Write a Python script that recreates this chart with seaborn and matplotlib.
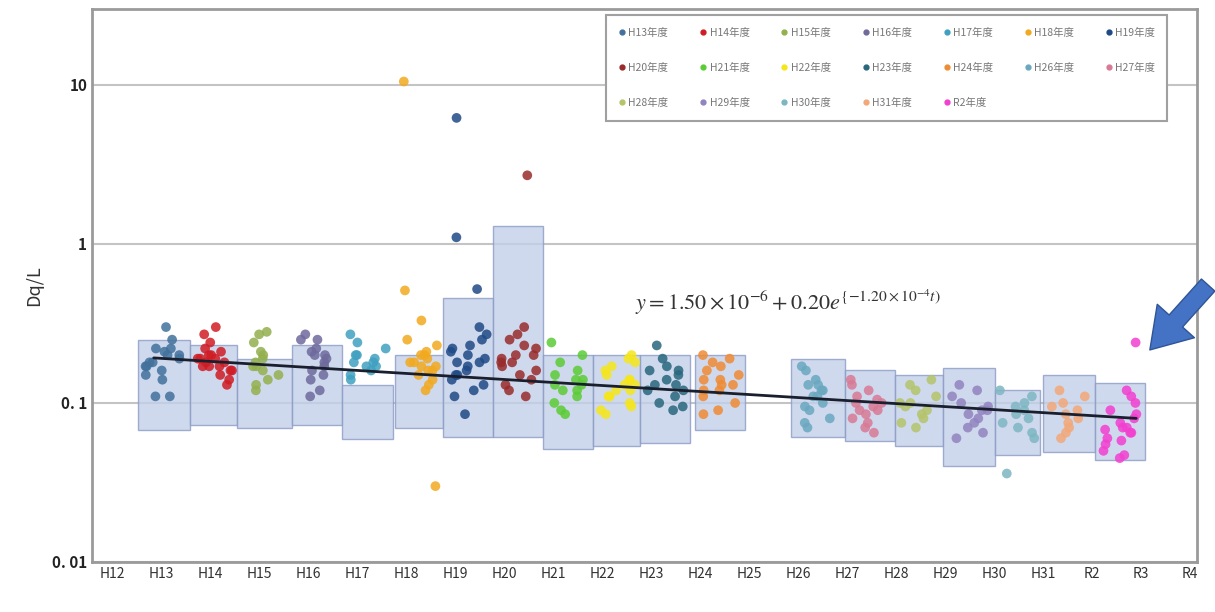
import matplotlib.pyplot as plt
import seaborn as sns
import pandas as pd
import numpy as np
from matplotlib.lines import Line2D
from matplotlib.patches import FancyArrowPatch

sns.set_style("white")
plt.rcParams['font.family'] = ['Noto Sans CJK JP', 'DejaVu Sans']
plt.rcParams['mathtext.fontset'] = 'stix'

# ---- data ----
tick_labels = ['H12', 'H13', 'H14', 'H15', 'H16', 'H17', 'H18', 'H19', 'H20', 'H21', 'H22',
               'H23', 'H24', 'H25', 'H26', 'H27', 'H28', 'H29', 'H30', 'H31', 'R2', 'R3', 'R4']

years = ['H13', 'H14', 'H15', 'H16', 'H17', 'H18', 'H19', 'H20', 'H21', 'H22',
         'H23', 'H24', 'H26', 'H27', 'H28', 'H29', 'H30', 'H31', 'R2']
# survey position of each year on the time axis (in tick units, H12 = 0)
year_pos = [1.06, 2.07, 3.11, 4.18, 5.21, 6.27, 7.27, 8.29, 9.31, 10.30,
            11.29, 12.41, 14.41, 15.47, 16.47, 17.49, 18.48, 19.53, 20.57]

box_low = [0.068, 0.073, 0.070, 0.073, 0.059, 0.070, 0.061, 0.061, 0.051, 0.054,
           0.056, 0.068, 0.061, 0.058, 0.054, 0.040, 0.047, 0.049, 0.044]
box_high = [0.25, 0.23, 0.19, 0.23, 0.13, 0.20, 0.46, 1.30, 0.20, 0.20,
            0.20, 0.20, 0.19, 0.16, 0.15, 0.166, 0.12, 0.15, 0.134]
box_width = [1.06, 0.96, 1.12, 1.02, 1.04, 0.98, 1.02, 1.02, 1.02, 0.96,
             1.02, 1.02, 1.10, 1.02, 0.98, 1.06, 0.92, 1.06, 1.02]

dq_values = {
    'H13': [0.30, 0.25, 0.22, 0.21, 0.20, 0.19, 0.18, 0.18, 0.17, 0.16, 0.15, 0.14, 0.11, 0.11, 0.22, 0.20, 0.17],
    'H14': [0.30, 0.27, 0.24, 0.22, 0.21, 0.20, 0.19, 0.19, 0.18, 0.18, 0.17, 0.17, 0.16, 0.16, 0.15, 0.14, 0.13, 0.20, 0.19, 0.17],
    'H15': [0.28, 0.27, 0.24, 0.21, 0.20, 0.18, 0.17, 0.16, 0.15, 0.14, 0.13, 0.12, 0.19, 0.17],
    'H16': [0.27, 0.25, 0.25, 0.22, 0.21, 0.20, 0.19, 0.18, 0.17, 0.16, 0.15, 0.14, 0.12, 0.11, 0.20],
    'H17': [0.27, 0.24, 0.22, 0.20, 0.19, 0.18, 0.17, 0.17, 0.16, 0.15, 0.14, 0.20, 0.18],
    'H18': [10.5, 0.51, 0.33, 0.25, 0.23, 0.21, 0.20, 0.19, 0.18, 0.17, 0.16, 0.16, 0.15, 0.14, 0.13, 0.12, 0.030, 0.20, 0.18, 0.17],
    'H19': [6.2, 1.1, 0.52, 0.30, 0.27, 0.25, 0.23, 0.22, 0.20, 0.19, 0.18, 0.17, 0.16, 0.15, 0.15, 0.14, 0.13, 0.12, 0.11, 0.085, 0.21, 0.18],
    'H20': [2.7, 0.30, 0.27, 0.25, 0.23, 0.22, 0.20, 0.19, 0.18, 0.17, 0.16, 0.15, 0.14, 0.13, 0.12, 0.11, 0.20, 0.18],
    'H21': [0.24, 0.20, 0.18, 0.16, 0.15, 0.14, 0.13, 0.12, 0.12, 0.11, 0.10, 0.09, 0.085, 0.14, 0.13],
    'H22': [0.20, 0.19, 0.18, 0.17, 0.16, 0.15, 0.14, 0.13, 0.13, 0.12, 0.11, 0.10, 0.095, 0.09, 0.085, 0.14, 0.12, 0.11],
    'H23': [0.23, 0.19, 0.17, 0.16, 0.15, 0.14, 0.13, 0.13, 0.12, 0.11, 0.10, 0.095, 0.09, 0.16, 0.12],
    'H24': [0.20, 0.19, 0.18, 0.17, 0.16, 0.15, 0.14, 0.13, 0.12, 0.12, 0.11, 0.10, 0.09, 0.085, 0.14, 0.13],
    'H26': [0.17, 0.16, 0.14, 0.13, 0.12, 0.12, 0.11, 0.10, 0.095, 0.09, 0.08, 0.075, 0.07, 0.13, 0.11],
    'H27': [0.14, 0.13, 0.12, 0.11, 0.105, 0.10, 0.095, 0.09, 0.085, 0.08, 0.075, 0.07, 0.065, 0.10, 0.09],
    'H28': [0.14, 0.13, 0.12, 0.11, 0.10, 0.095, 0.09, 0.085, 0.08, 0.075, 0.07, 0.10],
    'H29': [0.13, 0.12, 0.11, 0.10, 0.095, 0.09, 0.085, 0.08, 0.075, 0.07, 0.065, 0.06, 0.09],
    'H30': [0.12, 0.11, 0.10, 0.095, 0.09, 0.085, 0.08, 0.075, 0.07, 0.065, 0.06, 0.036],
    'H31': [0.12, 0.11, 0.10, 0.095, 0.09, 0.085, 0.08, 0.075, 0.07, 0.065, 0.06],
    'R2': [0.24, 0.12, 0.11, 0.10, 0.09, 0.085, 0.08, 0.075, 0.07, 0.068, 0.065, 0.06, 0.058, 0.055, 0.05, 0.047, 0.045, 0.07, 0.065],
}

# fitted trend (straight on log axis): start / end of fit line
trend_x = [0.85, 20.9]
trend_y = [0.192, 0.080]

colors = ['#41719c', '#d01c24', '#93b04e', '#6e6a9c', '#3fa0c0', '#f2a91f', '#1f4a86', '#982b2b',
          '#5ccc36', '#f5e61a', '#29677d', '#ef8b34', '#6aa8bf', '#d87a96', '#b5c46a', '#9184bf',
          '#7db6c2', '#f2a878', '#f23fd0']
palette = dict(zip(years, colors))

rows = []
for y, p in zip(years, year_pos):
    for v in dq_values[y]:
        rows.append((y, p, v))
df = pd.DataFrame(rows, columns=['year', 'pos', 'dq'])

# ---- plot ----
fig = plt.figure(figsize=(12.15, 6.12), dpi=100)
ax = fig.add_axes([92 / 1215, 1 - 562 / 612, 1105 / 1215, 553 / 612])
ax.set_yscale('log')

ax.bar(year_pos, np.array(box_high) - np.array(box_low), bottom=box_low, width=box_width,
       color='#c3d0ea', alpha=0.8, edgecolor='#8b9bc4', linewidth=1.0, zorder=1)

np.random.seed(3)
sns.stripplot(data=df, x='pos', y='dq', hue='year', palette=palette, native_scale=True,
              jitter=0.4, size=7, alpha=0.85, linewidth=0, legend=False, ax=ax, zorder=3)

sns.lineplot(x=trend_x, y=trend_y, color='#1a1f2e', linewidth=2, ax=ax, zorder=4)

ax.set_xlim(-0.41, 22.14)
ax.set_ylim(0.01, 30)
ax.set_xticks(range(len(tick_labels)))
ax.set_xticklabels(tick_labels, fontsize=10, color='#333333')
ax.set_yticks([0.01, 0.1, 1, 10])
ax.set_yticklabels(['0. 01', '0. 1', '1', '10'], fontsize=11, color='#222222', fontweight='bold')
ax.set_xlabel('')
ax.set_ylabel('Dq/L', fontsize=13, color='#333333', labelpad=6)
ax.tick_params(axis='both', which='both', direction='in', color='#888888')
ax.tick_params(axis='y', which='minor', length=3)
ax.yaxis.grid(True, which='major', color='#c4c4c4', linewidth=1.5)
ax.set_axisbelow(True)
for s in ax.spines.values():
    s.set_color('#9a9a9a')
    s.set_linewidth(2)

ax.text(10.67, 0.43, r'$y = 1.50\times10^{-6} + 0.20e^{\{-1.20\times10^{-4}t)}$',
        fontsize=16, color='#333333', ha='left', va='center', zorder=5)

# legend filled row by row (7 per row)
ncol = 7
order = []
for c in range(ncol):
    order += [i for i in range(c, len(years), ncol)]
handles = [Line2D([], [], marker='o', linestyle='', markersize=3.5, color=palette[years[i]]) for i in order]
labels = [years[i] + '年度' for i in order]
leg = ax.legend(handles, labels, ncol=ncol, loc='upper left',
                bbox_to_anchor=(0.46, 0.772, 0.518, 0.226), mode='expand', fontsize=7.5,
                labelspacing=2.4, handletextpad=0.2, handlelength=0.8, borderpad=1.2,
                frameon=True, fancybox=False, framealpha=1)
leg.get_frame().set_edgecolor('#a0a0a0')
leg.get_frame().set_linewidth(1.5)
for t in leg.get_texts():
    t.set_color('#777777')

arrow = FancyArrowPatch((1210 / 1215, 1 - 283 / 612), (1148 / 1215, 1 - 352 / 612),
                        transform=fig.transFigure,
                        arrowstyle='simple,head_width=1.8,head_length=1.4,tail_width=0.65',
                        mutation_scale=20, facecolor='#4472c4', edgecolor='#2f5597', linewidth=1)
fig.add_artist(arrow)

fig.savefig('out.png', dpi=100)
